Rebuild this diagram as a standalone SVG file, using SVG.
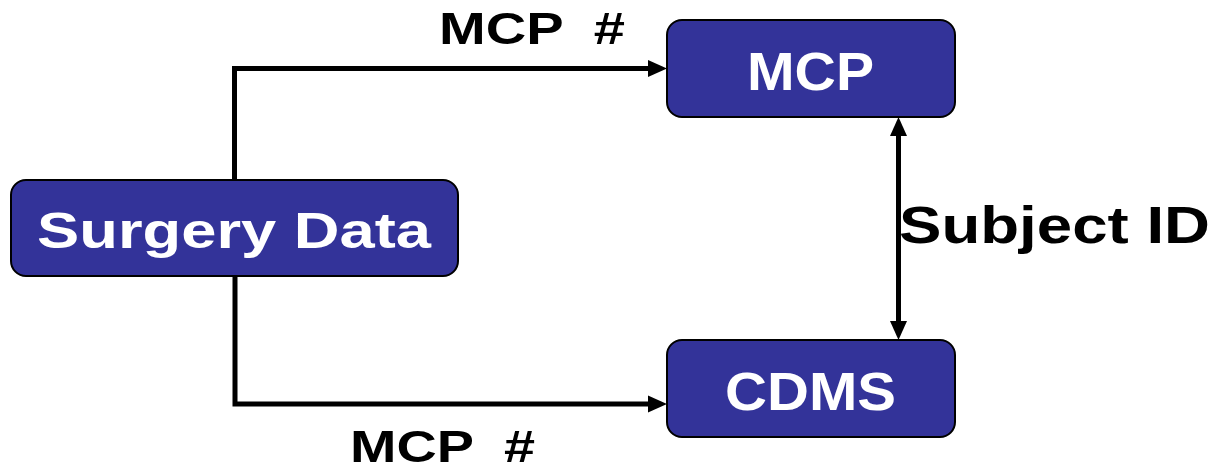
<svg xmlns="http://www.w3.org/2000/svg" width="1215" height="469" viewBox="0 0 1215 469">
  <style>
    .box { fill: #333399; stroke: #000; stroke-width: 2; }
    .lbl { font-family: "Liberation Sans", Arial, sans-serif; font-weight: bold; fill: #fff; }
    .clbl { font-family: "Liberation Sans", Arial, sans-serif; font-weight: bold; fill: #000; }
    .conn { fill: none; stroke: #000; stroke-width: 5; }
  </style>
  <defs>
    <marker id="arrow" markerUnits="userSpaceOnUse" markerWidth="20" markerHeight="20" viewBox="0 0 20 20" refX="7" refY="10" orient="auto-start-reverse">
      <polygon points="0,1.5 19,10 0,18.5" fill="#000"/>
    </marker>
  </defs>
  <rect width="1215" height="469" fill="#fff"/>
  <g id="connectors">
    <path class="conn" d="M234.5,180 V68.5 H655" marker-end="url(#arrow)"/>
    <path class="conn" d="M235,277 V404 H655" marker-end="url(#arrow)"/>
    <path class="conn" d="M898.5,129 V328" marker-start="url(#arrow)" marker-end="url(#arrow)"/>
    <text class="clbl" x="439" y="44" font-size="44" xml:space="preserve" textLength="186" lengthAdjust="spacingAndGlyphs">MCP  #</text>
    <text class="clbl" x="350" y="462" font-size="44" xml:space="preserve" textLength="185" lengthAdjust="spacingAndGlyphs">MCP  #</text>
    <text class="clbl" x="899" y="243" font-size="52" textLength="311" lengthAdjust="spacingAndGlyphs">Subject ID</text>
  </g>
  <g id="surgery-data">
    <rect class="box" x="11" y="180" width="447" height="96" rx="15"/>
    <text class="lbl" x="37" y="248" font-size="50" textLength="394" lengthAdjust="spacingAndGlyphs">Surgery Data</text>
  </g>
  <g id="mcp">
    <rect class="box" x="667" y="20" width="288" height="97" rx="15"/>
    <text class="lbl" x="747" y="90" font-size="53" textLength="127" lengthAdjust="spacingAndGlyphs">MCP</text>
  </g>
  <g id="cdms">
    <rect class="box" x="667" y="340" width="288" height="97" rx="15"/>
    <text class="lbl" x="725" y="410" font-size="53" textLength="171" lengthAdjust="spacingAndGlyphs">CDMS</text>
  </g>
</svg>
